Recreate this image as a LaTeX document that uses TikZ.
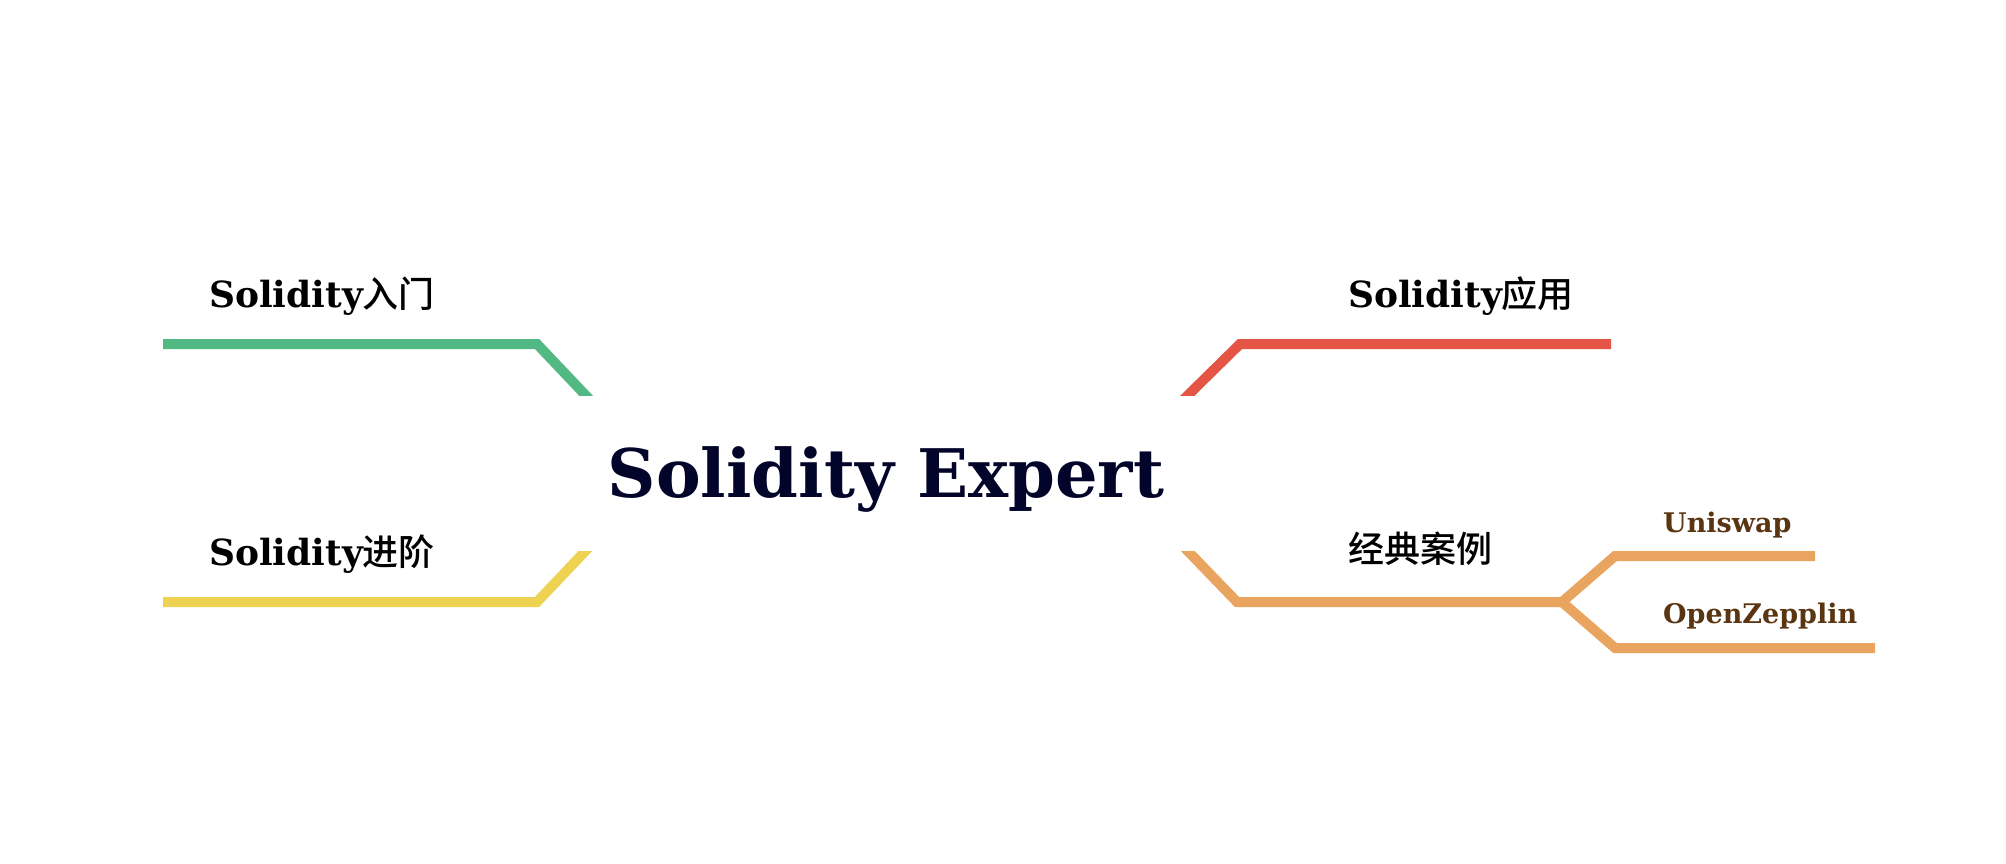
\documentclass[tikz,border=0pt]{standalone}
\usepackage{fontspec}
\setmainfont{DejaVu Serif}
\newfontfamily\cjk{Noto Sans CJK SC}[UprightFont={* Medium}]
\usepackage{tikz}
\usetikzlibrary{positioning}

\definecolor{introgreen}{HTML}{53B984}
\definecolor{advyellow}{HTML}{EDD351}
\definecolor{appred}{HTML}{E55545}
\definecolor{caseorange}{HTML}{E9A45F}
\definecolor{casebrown}{HTML}{5A3512}
\definecolor{titlenavy}{HTML}{03042A}

\tikzset{
  branch/.style={line width=10pt, line join=miter},
  topic/.style={inner sep=0pt, anchor=base west, font=\bfseries\fontsize{36}{40}\selectfont},
  subtopic/.style={inner sep=0pt, anchor=base west, text=casebrown, font=\bfseries\fontsize{27}{30}\selectfont},
  title/.style={inner sep=0pt, anchor=base, text=titlenavy, font=\bfseries\fontsize{67}{72}\selectfont}
}
\newcommand{\zh}[1]{{\cjk\mdseries #1}}

\begin{document}
\begin{tikzpicture}[x=1pt, y=-1pt]
  \useasboundingbox (0,0) rectangle (2006,864);

  % Centre
  \node[title] (expert) at (886,497) {Solidity Expert};

  % --- UPPER BRANCHES (cut flat at the centre) ---
  \begin{scope}
    \clip (0,0) rectangle (2006,395);
    % Solidity basics
    \coordinate (intro-in) at (592,402);
    \coordinate (intro-knee) at (537,344);
    \coordinate (intro-end) at (163,344);
    \draw[branch, introgreen] (intro-in) -- (intro-knee) -- (intro-end);
    % Solidity applications
    \coordinate (app-in) at (1181,402);
    \coordinate (app-knee) at (1240,344);
    \coordinate (app-end) at (1611,344);
    \draw[branch, appred] (app-in) -- (app-knee) -- (app-end);
  \end{scope}

  % --- LOWER BRANCHES ---
  \begin{scope}
    \clip (0,551) rectangle (2006,864);
    % Solidity advanced
    \coordinate (adv-in) at (592,544);
    \coordinate (adv-knee) at (537,602);
    \coordinate (adv-end) at (163,602);
    \draw[branch, advyellow] (adv-in) -- (adv-knee) -- (adv-end);
    % Case studies
    \coordinate (case-in) at (1181,544);
    \coordinate (case-knee) at (1237,602);
    \coordinate (case-fork) at (1562,602);
    \draw[branch, caseorange] (case-in) -- (case-knee) -- (case-fork);
  \end{scope}

  % Sub-branches of the case studies
  \coordinate (uni-knee) at (1615,556);
  \coordinate (uni-end) at (1815,556);
  \coordinate (oz-knee) at (1615,648);
  \coordinate (oz-end) at (1875,648);
  \draw[branch, caseorange] (uni-end) -- (uni-knee) -- (case-fork) -- (oz-knee) -- (oz-end);

  % Labels
  \node[topic] (intro) at (209,307) {Solidity\zh{入门}};
  \node[topic] (adv) at (209,565) {Solidity\zh{进阶}};
  \node[topic] (app) at (1348,307) {Solidity\zh{应用}};
  \node[topic] (case) at (1348,562) {\zh{经典案例}};
  \node[subtopic] (uni) at (1663,532) {Uniswap};
  \node[subtopic] (oz) at (1663,623) {OpenZepplin};
\end{tikzpicture}
\end{document}
